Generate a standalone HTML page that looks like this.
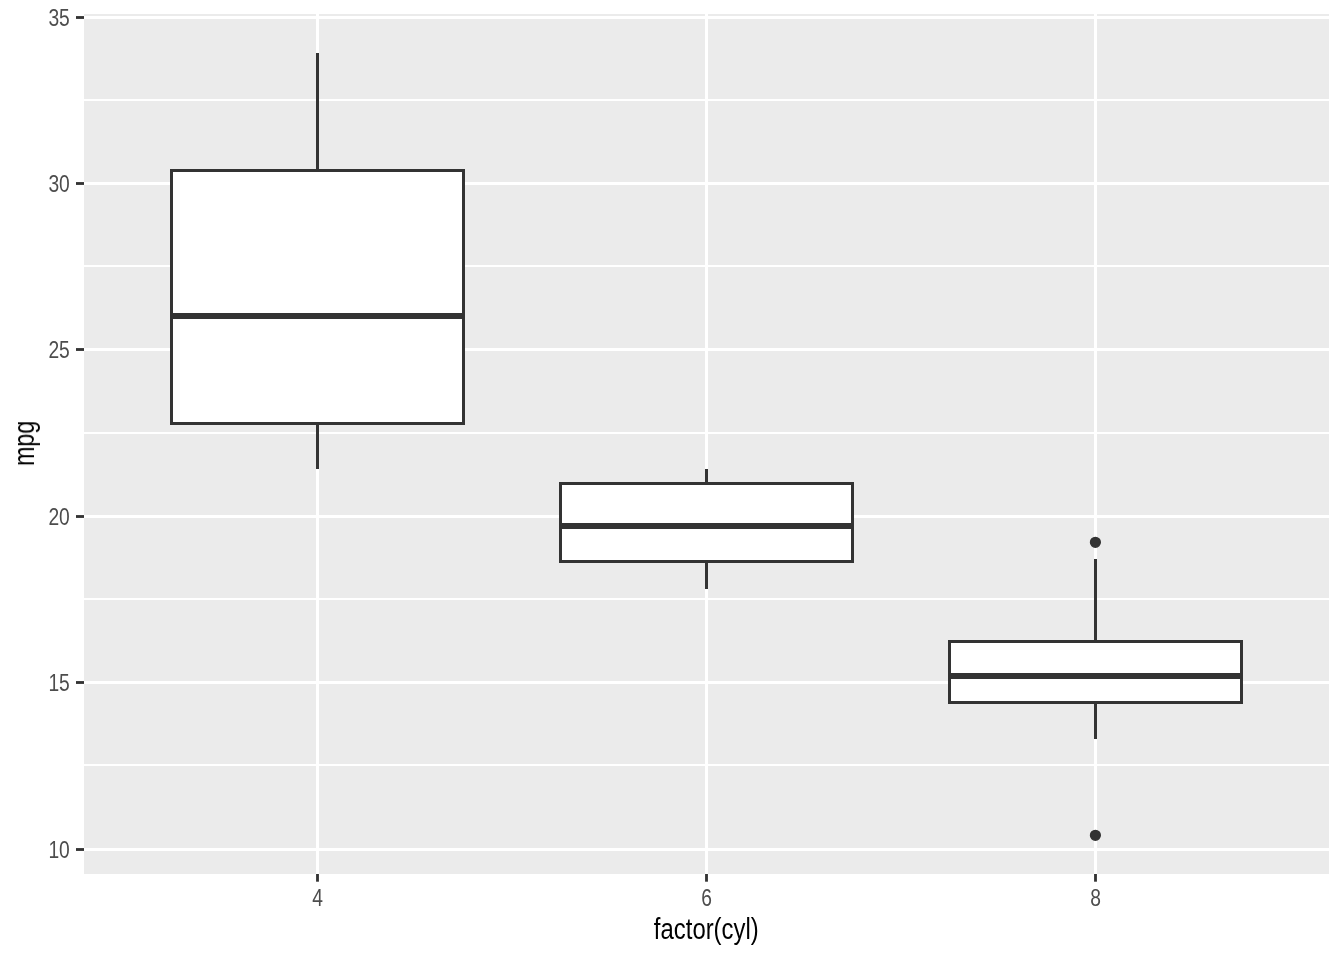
<!DOCTYPE html>
<html lang="en"><head><meta charset="utf-8"><title>mpg by factor(cyl)</title>
<style>html,body{margin:0;padding:0;background:#fff;overflow:hidden;}svg{display:block;}text{font-family:"Liberation Sans",sans-serif;}</style></head><body>
<svg width="1344" height="960" viewBox="0 0 1344 960">
<rect x="0" y="0" width="1344" height="960" fill="#ffffff"/>
<rect x="84" y="14" width="1245" height="860" fill="#EBEBEB"/>
<g stroke="#ffffff" stroke-width="2">
<line x1="84" x2="1329" y1="100" y2="100"/>
<line x1="84" x2="1329" y1="266" y2="266"/>
<line x1="84" x2="1329" y1="433" y2="433"/>
<line x1="84" x2="1329" y1="599" y2="599"/>
<line x1="84" x2="1329" y1="765" y2="765"/>
</g>
<g stroke="#ffffff" stroke-width="3">
<line x1="84" x2="1329" y1="17.5" y2="17.5"/>
<line x1="84" x2="1329" y1="183.5" y2="183.5"/>
<line x1="84" x2="1329" y1="349.5" y2="349.5"/>
<line x1="84" x2="1329" y1="516.5" y2="516.5"/>
<line x1="84" x2="1329" y1="682.5" y2="682.5"/>
<line x1="84" x2="1329" y1="849.5" y2="849.5"/>
<line x1="317.5" x2="317.5" y1="14" y2="874"/>
<line x1="706.5" x2="706.5" y1="14" y2="874"/>
<line x1="1095.5" x2="1095.5" y1="14" y2="874"/>
</g>
<g stroke="#333333" stroke-width="3" fill="none">
<line x1="317.5" x2="317.5" y1="53.0" y2="170.5"/>
<line x1="317.5" x2="317.5" y1="423.5" y2="469.0"/>
<rect x="171.5" y="170.5" width="292.0" height="253.0" fill="#ffffff"/>
<line x1="171.5" x2="463.5" y1="316.0" y2="316.0" stroke-width="6"/>
<line x1="706.5" x2="706.5" y1="469.0" y2="483.5"/>
<line x1="706.5" x2="706.5" y1="561.5" y2="589.0"/>
<rect x="560.5" y="483.5" width="292.0" height="78.0" fill="#ffffff"/>
<line x1="560.5" x2="852.5" y1="526.0" y2="526.0" stroke-width="6"/>
<circle cx="1095.4" cy="542.3" r="4.9" fill="#333333" stroke-width="1.4"/>
<circle cx="1095.4" cy="835.3" r="4.9" fill="#333333" stroke-width="1.4"/>
<line x1="1095.5" x2="1095.5" y1="559.0" y2="641.5"/>
<line x1="1095.5" x2="1095.5" y1="702.5" y2="739.0"/>
<rect x="949.5" y="641.5" width="292.0" height="61.0" fill="#ffffff"/>
<line x1="949.5" x2="1241.5" y1="676.0" y2="676.0" stroke-width="6"/>
</g>
<g stroke="#333333" stroke-width="2.85">
<line x1="76" x2="84" y1="17.5" y2="17.5"/>
<line x1="76" x2="84" y1="183.5" y2="183.5"/>
<line x1="76" x2="84" y1="349.5" y2="349.5"/>
<line x1="76" x2="84" y1="516.5" y2="516.5"/>
<line x1="76" x2="84" y1="682.5" y2="682.5"/>
<line x1="76" x2="84" y1="849.5" y2="849.5"/>
<line x1="317.5" x2="317.5" y1="874" y2="881.7"/>
<line x1="706.5" x2="706.5" y1="874" y2="881.7"/>
<line x1="1095.5" x2="1095.5" y1="874" y2="881.7"/>
</g>
<g opacity="0.999">
<text transform="translate(69.80,25.90) scale(0.82,1)" font-size="23.47" text-anchor="end" fill="#4D4D4D">35</text>
<text transform="translate(69.80,191.90) scale(0.82,1)" font-size="23.47" text-anchor="end" fill="#4D4D4D">30</text>
<text transform="translate(69.80,357.90) scale(0.82,1)" font-size="23.47" text-anchor="end" fill="#4D4D4D">25</text>
<text transform="translate(69.80,524.90) scale(0.82,1)" font-size="23.47" text-anchor="end" fill="#4D4D4D">20</text>
<text transform="translate(69.80,690.90) scale(0.82,1)" font-size="23.47" text-anchor="end" fill="#4D4D4D">15</text>
<text transform="translate(69.80,857.90) scale(0.82,1)" font-size="23.47" text-anchor="end" fill="#4D4D4D">10</text>
<text transform="translate(317.50,905.70) scale(0.82,1)" font-size="23.47" text-anchor="middle" fill="#4D4D4D">4</text>
<text transform="translate(706.50,905.70) scale(0.82,1)" font-size="23.47" text-anchor="middle" fill="#4D4D4D">6</text>
<text transform="translate(1095.50,905.70) scale(0.82,1)" font-size="23.47" text-anchor="middle" fill="#4D4D4D">8</text>
<text transform="translate(706.30,938.70) scale(0.836,1)" font-size="28.6" text-anchor="middle" fill="#000000">factor(cyl)</text>
<text transform="translate(34.00,443.40) rotate(-90) scale(0.815,1)" font-size="28.6" text-anchor="middle" fill="#000000">mpg</text>
</g>
</svg></body></html>
